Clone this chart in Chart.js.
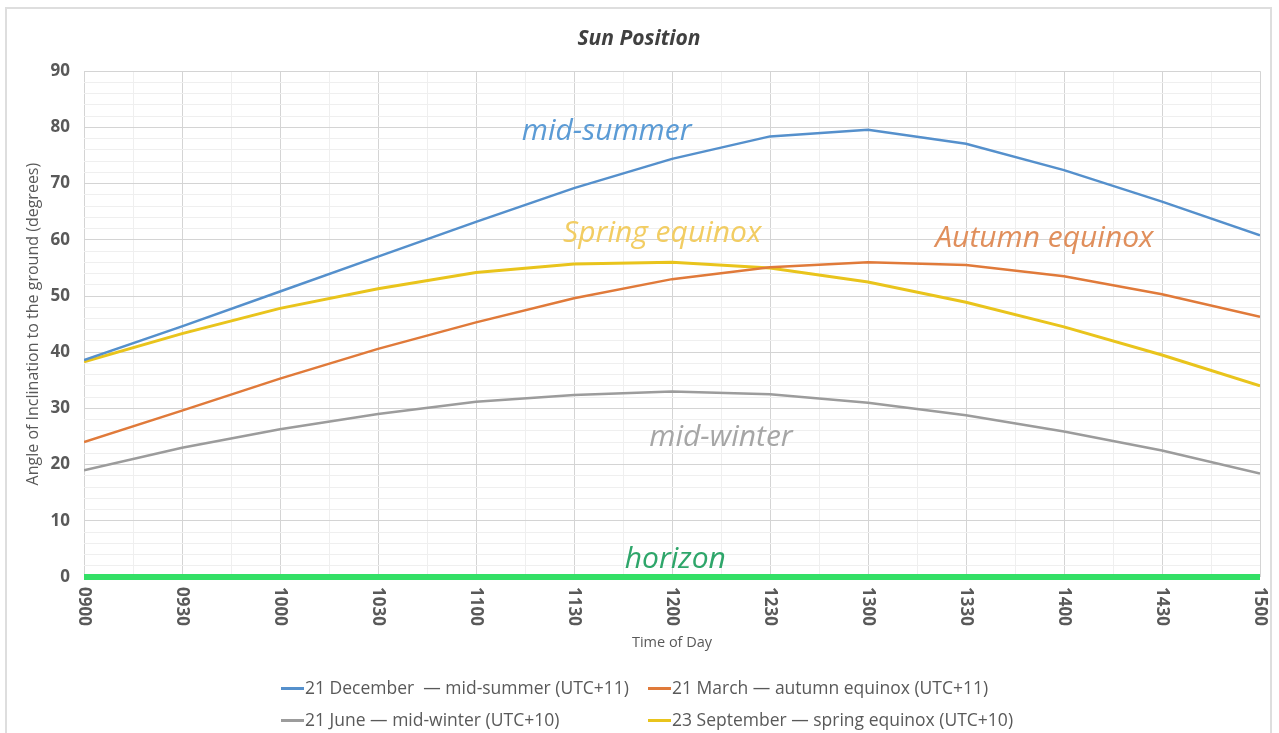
<!DOCTYPE html>
<html>
<head>
<meta charset="utf-8">
<script src="https://cdn.jsdelivr.net/npm/chart.js@4/dist/chart.umd.min.js"></script>
<style>
  html, body { margin: 0; padding: 0; background: #ffffff; }
  #wrap { position: relative; width: 1279px; height: 733px; overflow: hidden; }
  #frame { position: absolute; left: 5px; top: 7px; width: 1267px; height: 740px; border: 2px solid #dedede; box-sizing: border-box; pointer-events: none; }
  canvas { position: absolute; left: 0; top: 0; }
  .leg { position: absolute; font-family: "Open Sans", sans-serif; font-size: 17.5px; color: #595959; white-space: pre; line-height: 22px; }
  .leg span.sw { display: inline-block; width: 23px; height: 3px; vertical-align: middle; margin-right: 1px; position: relative; top: -1px; }
</style>
</head>
<body>
<div id="wrap">
  <canvas id="c" width="1279" height="733"></canvas>
  <div id="frame"></div>
  <div id="legend"></div>
</div>
<script>
// ---- data ----
const timeLabels = ['0900','0930','1000','1030','1100','1130','1200','1230','1300','1330','1400','1430','1500'];
const midSummer  = [38.6, 44.6, 50.8, 57.0, 63.2, 69.2, 74.4, 78.4, 79.6, 77.1, 72.4, 66.8, 60.8];
const autumnEq   = [24.0, 29.6, 35.3, 40.6, 45.3, 49.6, 53.0, 55.1, 56.0, 55.5, 53.5, 50.3, 46.3];
const midWinter  = [19.0, 23.0, 26.3, 29.0, 31.2, 32.4, 33.0, 32.5, 31.0, 28.8, 25.9, 22.5, 18.4];
const springEq   = [38.3, 43.3, 47.8, 51.3, 54.2, 55.7, 56.0, 55.0, 52.5, 48.9, 44.5, 39.5, 34.0];
const horizon    = [0, 0, 0, 0, 0, 0, 0, 0, 0, 0, 0, 0, 0];
const seriesNames = [
  '21 December  \u2014 mid-summer (UTC+11)',
  '21 March \u2014 autumn equinox (UTC+11)',
  '21 June \u2014 mid-winter (UTC+10)',
  '23 September \u2014 spring equinox (UTC+10)'
];
const yTickLabels = [0, 10, 20, 30, 40, 50, 60, 70, 80, 90];
// annotation labels: text, minutes after 0900, degrees, colour
const annText  = ['mid-summer', 'Spring equinox', 'Autumn equinox', 'mid-winter', 'horizon'];
const annTime  = [160, 177, 294, 195, 181];
const annValue = [79.2, 61.2, 60.2, 24.8, 3.1];
const annColor = ['#5b9bd5', '#f2cd63', '#e08f5c', '#a6a6a6', '#2ea66a'];

const toMin = s => (parseInt(s.slice(0,2),10)*60 + parseInt(s.slice(2),10)) - 540;
const xs = timeLabels.map(toMin);
const pts = arr => arr.map((v, i) => ({x: xs[i], y: v}));

const colors = ['#5590cc', '#e07a3a', '#9c9c9c', '#e9c41c'];

const data = {
  datasets: [
    {label: 'horizon', data: pts(horizon), borderColor: '#33e066', borderWidth: 6, pointRadius: 0, tension: 0, clip: 6},
    {label: seriesNames[0], data: pts(midSummer), borderColor: colors[0], borderWidth: 2.5, pointRadius: 0, tension: 0},
    {label: seriesNames[1], data: pts(autumnEq), borderColor: colors[1], borderWidth: 2.5, pointRadius: 0, tension: 0},
    {label: seriesNames[2], data: pts(midWinter), borderColor: colors[2], borderWidth: 2.5, pointRadius: 0, tension: 0},
    {label: seriesNames[3], data: pts(springEq), borderColor: colors[3], borderWidth: 3, pointRadius: 0, tension: 0}
  ]
};

const FONT = '"Open Sans", sans-serif';

const xLabelPlugin = {
  id: 'xLabels',
  afterDraw(chart) {
    const ctx = chart.ctx, sx = chart.scales.x, area = chart.chartArea;
    ctx.save();
    ctx.font = 'bold 17px ' + FONT;
    ctx.fillStyle = '#595959';
    ctx.textAlign = 'left';
    ctx.textBaseline = 'middle';
    timeLabels.forEach((lab, i) => {
      const px = sx.getPixelForValue(xs[i]);
      ctx.save();
      ctx.translate(px, area.bottom + 10);
      ctx.rotate(Math.PI / 2);
      ctx.fillText(lab, 0, 0);
      ctx.restore();
    });
    ctx.restore();
  }
};

const annPlugin = {
  id: 'annLabels',
  afterDatasetsDraw(chart) {
    const ctx = chart.ctx, sx = chart.scales.x, sy = chart.scales.y;
    ctx.save();
    ctx.font = 'italic 30px ' + FONT;
    ctx.textAlign = 'center';
    ctx.textBaseline = 'middle';
    annText.forEach((t, i) => {
      ctx.fillStyle = annColor[i];
      ctx.fillText(t, sx.getPixelForValue(annTime[i]), sy.getPixelForValue(annValue[i]));
    });
    ctx.restore();
  }
};

new Chart(document.getElementById('c'), {
  type: 'line',
  data,
  options: {
    responsive: false,
    animation: false,
    devicePixelRatio: 1,
    layout: {padding: {left: 18, right: 19, top: 0, bottom: 76}},
    plugins: {
      legend: {display: false},
      tooltip: {enabled: false},
      title: {
        display: true, text: 'Sun Position', color: '#404040',
        font: {family: FONT, size: 21, style: 'italic', weight: 'bold'},
        padding: {top: 26, bottom: 20}
      }
    },
    scales: {
      x: {
        type: 'linear', min: 0, max: 360,
        afterFit(s) { s.height = 80; },
        ticks: {display: false, stepSize: 15, autoSkip: false},
        grid: {
          drawTicks: false,
          color: c => (c.tick && c.tick.value % 30 === 0) ? '#d4d4d4' : '#efefef'
        },
        border: {display: false},
        title: {display: true, text: 'Time of Day', color: '#595959', font: {family: FONT, size: 14.5}, padding: {top: 0, bottom: 5}}
      },
      y: {
        min: 0, max: 90,
        afterFit(s) { s.width = 66; },
        ticks: {
          stepSize: 2, autoSkip: false, padding: 14, color: '#595959',
          font: {family: FONT, size: 17, weight: 'bold'},
          callback: v => yTickLabels.includes(v) ? String(v) : ''
        },
        grid: {
          drawTicks: false,
          color: c => (c.tick && c.tick.value % 10 === 0) ? '#d4d4d4' : '#efefef'
        },
        border: {display: false},
        title: {display: true, text: 'Angle of Inclination to the ground (degrees)', color: '#595959', font: {family: FONT, size: 16}, padding: {top: 6, bottom: 0}}
      }
    }
  },
  plugins: [xLabelPlugin, annPlugin]
});

// HTML legend built from the series
const legendPos = [[281, 676], [648, 676], [281, 708], [648, 708]];
const legEl = document.getElementById('legend');
seriesNames.forEach((name, i) => {
  const d = document.createElement('div');
  d.className = 'leg';
  d.style.left = legendPos[i][0] + 'px';
  d.style.top = legendPos[i][1] + 'px';
  const sw = document.createElement('span');
  sw.className = 'sw';
  sw.style.background = colors[i];
  d.appendChild(sw);
  d.appendChild(document.createTextNode(name));
  legEl.appendChild(d);
});
</script>
</body>
</html>
